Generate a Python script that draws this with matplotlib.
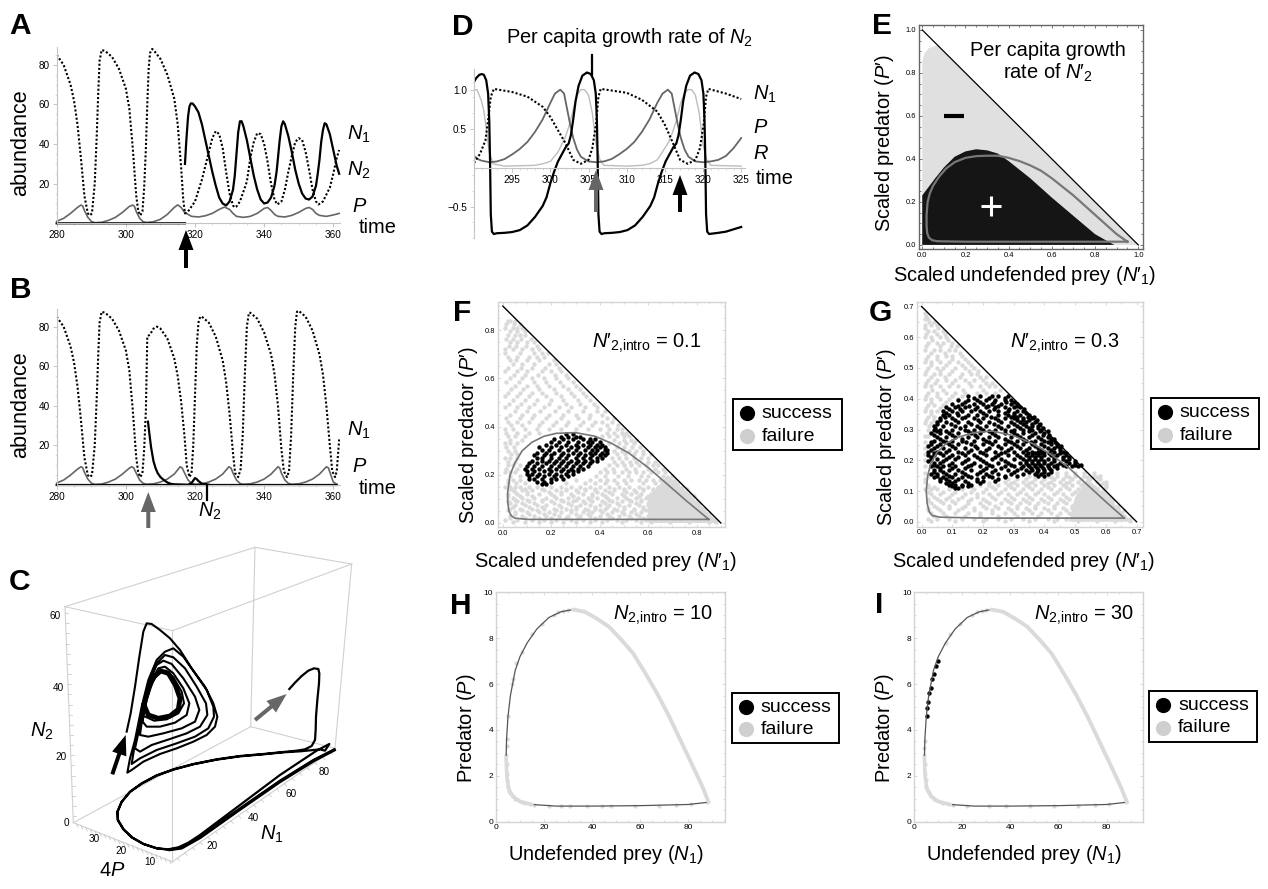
import matplotlib
matplotlib.use('Agg')
import matplotlib.pyplot as plt
import numpy as np
from matplotlib.patches import Rectangle, FancyArrow
from matplotlib.ticker import AutoMinorLocator

plt.rcParams['font.family'] = ['Liberation Sans', 'DejaVu Sans']
plt.rcParams['mathtext.fontset'] = 'custom'
plt.rcParams['mathtext.rm'] = 'Liberation Sans'
plt.rcParams['mathtext.it'] = 'Liberation Sans:italic'
plt.rcParams['mathtext.bf'] = 'Liberation Sans:bold'

NAN = float('nan')

# ---- A: time series
a_n1_t = [280,282,284,285,286,287,288,289,289.6,290.2,291,291.6,292,292.4,293,294,296,298,300,301,302,303,303.6,304.2,304.8,305.3,305.8,306.2,306.6,307,307.6,308,310,312,314,315,316,316.6,317.1,318,320,322,324,325,326,327,328,329,330,331,331.5,332,333,335,336,337,338,339,340,341,342,343,343.8,345,346,347,348,349,350,351,352,353,354,355,355.7,357,359,360,361,361.7]
a_n1_v = [85,80,70,62,50,33,14,5,4,5,20,45,65,82,87.5,87,84,78,68,58,38,14,6,4,6,18,38,60,78,86,88,87.5,83,75,63,50,28,12,5,6,11,22,36,43,46.5,45,38,26,15,9,8,8.5,11,21,33,41,45.5,45,40,31,20,12,9.5,11,17,26,34,41,43,42,36,27,17,11,9.5,11,18,25,33,37]
a_n2_t = [280,317.1,NAN,317.1,317.5,318,318.4,318.8,319.3,320,321,322,323,324,325,326,327,328,329,330,331,331.5,332,332.5,333,333.5,334,335,336,337,338,339,340,341,342,343,343.6,344,344.5,345,345.5,346,347,348,349,350,351,352,353,354,355,355.5,356,356.5,357,357.5,358,359,360,361,361.7]
a_n2_v = [0,0,NAN,30,42,54,59,60.5,60.5,59,56,50,42,34,26,19,13,10,9,11,17,24,35,46,51.5,51.5,49,42,33,24,17,12,10,10.5,13,19,26,33,42,49,51.5,50,44,36,27,20,15,12.5,12,13.5,19,25,32,41,47,50.5,50,45,37,29,25]
a_p_t = [280,282,284,286,287,287.5,288,289,290,291,293,295,297,299,301,302,302.5,303,304,305,306,308,310,312,314,315,316,317,319,321,323,325,327,328.5,330,331,332,334,336,338,340,341,342,343,344,346,348,350,352,353,354,355,356,358,360,361.7]
a_p_v = [1,2.5,5,8,9.2,8.8,6.5,3,1,.3,.5,1.5,3,5.5,8.5,9.2,8.5,6,2.5,.8,.4,.8,2,4.5,8,9.3,8,5.5,3.5,3.2,3.8,5,7,8.2,7,5,3.5,3,3.5,5,7.5,8,6.5,4.5,3.5,3.2,4,5.5,7.5,8,7,5,4,3.5,4.2,5]

# ---- B: time series
b_n1_t = [280,282,284,285,286,287,288,289,289.6,290.2,291,291.6,292,292.4,293,294,296,298,300,301,302,303,303.6,304.2,304.8,305.3,305.8,306.2,307,308,309,310,312,314,315,316,317,317.6,318.4,319,319.5,320,320.5,321,321.5,322,324,326,328,329,330,331,331.6,332.5,333.2,333.8,334.4,335,335.6,336,338,340,342,343,344,345,345.7,346.6,347.2,347.8,348.4,349,349.5,350,352,354,356,357,358,359,359.7,360.5,361,361.7]
b_n1_v = [85,80,70,62,50,33,14,5,4,5,20,45,65,82,87.5,87,84,78,68,58,38,14,6,4,6,18,38,75,76,79,80,79,74,64,55,42,24,10,4,6,20,45,70,82,85,85,82,75,63,52,36,16,6,4,8,25,55,80,87,87,84,77,66,56,40,18,7,4,7,25,55,80,87.5,88,85,78,66,56,40,20,7,4,7,23]
b_n2_t = [280,361,NAN,306.4,306.8,307.3,308,308.6,309.2,310,311,312,313,314,318,319,320,320.5,321,322,324]
b_n2_v = [0,0,NAN,32,26,19,12,8.5,6,4,2.5,1.3,.6,.3,.1,1,3.5,3,2,.7,.1]
b_p_t = [280,282,284,286,287,287.5,288,289,290,291,293,295,297,299,301,301.7,302.3,303,304,305,306,308,310,312,314,315.7,316.3,317,318,319,320,322,324,326,328,329.8,330.4,331,332,333,334,336,338,340,342,344,344.5,345,346,347,348,350,352,354,356,358,358.6,359.3,360,361]
b_p_v = [1,2.5,5,8,9.2,8.8,6.5,3,1,.3,.5,1.5,3,5.5,8.5,9.2,8.6,6,2.5,.8,.4,.6,1.5,3,5.5,9.2,8.6,6,2.5,.8,.4,.6,1.5,3,5.5,9.2,8.6,6,2.5,.8,.4,.6,1.5,3,5.5,9.2,8.6,6,2.5,.8,.4,.6,1.5,3,5.5,9.2,8.6,5,1.5,.4]

# ---- C: trajectory as it appears in the 3D view (picture units)
c_outer = [(868,447),(885,428),(905,408),(925,392),(942,385),(955,387),(958,400),(957,430),(952,480),(948,530),(947,570),(945,600),(935,618),(915,628),(890,632),(850,636),(790,642),(720,648),(650,658),(580,672),(520,688),(470,706),(425,730),(390,755),(365,785),(352,815),(353,840),(370,868),(395,892),(430,912),(470,925),(505,928),(535,922),(565,908),(600,885),(660,840),(720,795),(780,750),(840,705),(900,665),(950,632),(988,612),(975,632),(960,628),(900,634),(850,637),(790,643),(720,649),(650,659),(580,673),(520,689),(470,707),(425,731),(390,756),(365,786),(353,815),(354,840),(371,868),(396,892),(431,912),(471,925),(505,929),(540,925),(600,890),(720,805),(840,722),(940,660),(1003,628)]
c_lower = [(1003,630),(940,663),(840,725),(720,808),(600,893),(545,924),(510,929)]
c_spiral = [(380,575),(392,520),(405,440),(418,350),(430,275),(440,250),(455,252),(480,270),(510,295),(540,330),(575,385),(615,440),(640,490),(652,530),(645,560),(620,585),(580,605),(530,625),(480,642),(430,665),(395,690),(382,698),
            (390,655),(405,600),(425,500),(445,420),(470,360),(495,335),(520,325),(550,350),(585,400),(620,450),(640,500),(642,530),(625,565),(585,590),(530,610),(470,630),(420,655),(395,672),
            (405,610),(425,520),(445,430),(470,370),(495,345),(520,352),(555,385),(590,440),(618,490),(622,525),(600,560),(560,580),(510,597),(455,615),(420,635),(405,625),
            (415,580),(430,500),(450,420),(470,375),(490,362),(515,372),(550,415),(585,470),(598,510),(585,545),(545,565),(490,580),(445,590),(420,585),
            (424,555),(435,490),(455,420),(475,385),(495,380),(520,400),(550,445),(568,490),(560,525),(525,548),(480,560),(440,560),(428,545),
            (430,530),(440,480),(458,425),(478,395),(498,392),(520,412),(545,455),(552,490),(535,520),(500,538),(462,542),(436,530)]
c_ring = [(432,495),(445,445),(462,410),(482,393),(505,400),(526,435),(540,475),(535,508),(510,528),(475,535),(445,525),(432,495)]
c_edges = [((195,200),(765,22)),((765,22),(1055,72)),((195,200),(517,272)),((517,272),(1055,72)),
           ((195,200),(220,848)),((517,272),(517,965)),((765,22),(752,560)),((1055,72),(1005,625)),
           ((220,848),(517,965)),((517,965),(1005,625)),((220,848),(752,560)),((752,560),(1005,625))]

# ---- D: growth rate and scaled abundances
d_g_t = [290,290.3,290.7,291,291.3,291.6,291.85,292,292.1,292.2,292.35,292.6,293,294,295,296,297,298,299,299.5,300,300.5,301,301.5,302,302.4,302.7,303,303.3,303.7,304.2,304.8,305.3,305.7,305.95,306.1,306.2,306.3,306.45,306.7,307.1,308.1,309.1,310.1,311.1,312.1,313.1,313.6,314.1,314.6,315.1,315.6,316.1,316.5,316.8,317.1,317.4,317.8,318.3,318.9,319.4,319.8,320.05,320.2,320.3,320.4,320.55,320.8,322,323,324,325]
d_g_v = [1.1,1.15,1.19,1.2,1.19,1.12,.95,.6,.1,-.6,-.82,-.85,-.84,-.835,-.825,-.8,-.74,-.63,-.49,-.38,-.2,-.05,.08,.17,.26,.31,.42,.62,.85,1.05,1.18,1.22,1.2,1.12,.95,.6,.1,-.6,-.82,-.85,-.84,-.835,-.825,-.8,-.74,-.63,-.49,-.38,-.2,-.05,.08,.17,.26,.31,.42,.62,.85,1.05,1.18,1.22,1.2,1.12,.95,.6,.1,-.6,-.82,-.85,-.835,-.82,-.79,-.76]
d_n1_t = [290,290.8,291.5,291.9,292.2,292.6,295,297,299,300,301,302,303,304,305,305.5,306,306.3,306.6,310,312,314,315,316,317,318,319,319.6,320.1,320.4,320.7,323,325]
d_n1_v = [.06,.18,.35,.65,.91,1.01,.97,.91,.78,.65,.48,.31,.1,.05,.1,.25,.57,.91,1.01,.96,.87,.72,.55,.33,.1,.05,.1,.25,.57,.91,1.01,.95,.88]
d_p_t = [290,290.5,291,292,293,294,295,296,297,298,299,300,300.6,301.3,301.8,302.2,302.6,303,303.5,304,305,306,307,308,309,310,311,312,313,314,314.7,315.4,315.9,316.3,316.7,317.1,317.6,318.1,319,320,321,322,323,324,325]
d_p_v = [.15,.11,.09,.07,.08,.11,.17,.24,.33,.46,.62,.83,.95,1.0,.95,.75,.55,.38,.23,.14,.08,.07,.08,.11,.17,.24,.33,.46,.62,.83,.95,1.0,.95,.75,.55,.38,.23,.14,.08,.07,.08,.1,.15,.25,.38]
d_r_t = [290,290.4,291,291.3,291.6,292,292.5,294,298,299,300,301,301.5,302,302.5,303,303.5,304,304.5,305,305.5,306,306.5,307,310,312,313,314,315,315.5,316,316.5,317,317.5,318,318.5,319,319.5,320,320.5,321,325]
d_r_v = [1.0,1.0,.85,.72,.5,.2,.05,.02,.03,.05,.08,.2,.3,.4,.55,.75,.93,1.0,1.0,.93,.7,.3,.1,.03,.02,.03,.05,.1,.25,.33,.45,.6,.8,.95,1.0,1.0,.93,.7,.3,.1,.03,.02]

# ---- E: sign regions of the growth rate and the cycle
e_neg_x = [0,0,.01,.03,.06,.075,1.0]
e_neg_y = [0,.85,.89,.915,.925,.925,0]
e_pos_x = [0,0,.03,.06,.1,.15,.2,.25,.3,.35,.4,.45,.5,.6,.7,.8,.87,.89]
e_pos_y = [0,.23,.27,.31,.36,.41,.435,.445,.44,.425,.39,.35,.31,.22,.135,.05,.01,0]
e_cyc_x = [.95,.6,.2,.07,.045,.03,.023,.02,.02,.025,.035,.05,.08,.11,.15,.2,.25,.3,.35,.4,.45,.5,.55,.6,.65,.7,.75,.8,.85,.9,.95]
e_cyc_y = [.015,.015,.015,.017,.022,.035,.055,.09,.14,.2,.24,.275,.32,.355,.385,.405,.413,.415,.415,.405,.39,.37,.345,.31,.27,.23,.185,.14,.095,.05,.015]

f_cyc_x = [.85,.6,.3,.1,.05,.035,.025,.02,.02,.03,.05,.08,.12,.17,.22,.3,.38,.45,.52,.6,.68,.76,.82,.85]
f_cyc_y = [.015,.015,.015,.015,.02,.03,.05,.09,.13,.2,.25,.3,.335,.36,.372,.375,.36,.33,.29,.23,.16,.09,.04,.015]
f_success = [(.368,[.26,.29]),(.358,[.24,.27,.30,.32]),(.347,[.21,.25,.29,.33,.36,.38]),(.336,[.20,.23,.27,.31,.35,.37,.40]),
             (.325,[.18,.22,.26,.30,.33,.36,.39,.41]),(.314,[.15,.20,.24,.28,.31,.35,.38,.40,.42]),(.303,[.16,.19,.23,.27,.30,.34,.37,.39,.42,.43]),
             (.292,[.14,.18,.21,.25,.29,.32,.36,.38,.41,.43]),(.281,[.13,.17,.20,.24,.27,.31,.34,.37,.40,.42]),(.270,[.14,.16,.20,.23,.26,.30,.33,.36,.39,.41]),
             (.259,[.12,.16,.19,.22,.25,.28,.31,.34,.37,.39]),(.248,[.11,.14,.18,.21,.24,.27,.30,.33,.36]),(.237,[.10,.13,.16,.20,.23,.26,.29,.32,.35]),
             (.226,[.09,.12,.15,.19,.22,.25,.28,.31,.33]),(.215,[.10,.13,.17,.20,.24,.27,.29,.31]),(.204,[.10,.12,.15,.19,.22,.26,.29]),
             (.193,[.11,.14,.17,.21,.24,.27]),(.182,[.11,.13,.16,.20,.22,.25]),(.171,[.14,.17,.20]),(.160,[.16,.18])]
f_failure = [(.84,[.02,.03,.05]),(.81,[.01,.04,.06,.08]),(.78,[.02,.05,.07,.09]),(.75,[.03,.06,.10,.13]),(.72,[.01,.04,.08,.12,.15]),
             (.69,[.02,.06,.11,.14,.17]),(.66,[.04,.08,.13,.19,.22]),(.63,[.01,.06,.10,.16,.20,.24]),(.60,[.03,.08,.12,.17,.22,.27]),
             (.57,[.05,.10,.14,.19,.25,.30]),(.54,[.02,.07,.12,.16,.22,.28,.33]),(.51,[.04,.09,.14,.20,.25,.31,.36]),
             (.48,[.01,.06,.11,.17,.23,.28,.34,.39]),(.45,[.03,.08,.13,.19,.25,.30,.36,.41]),(.42,[.02,.06,.11,.16,.22,.27,.33,.38,.41,.45]),
             (.39,[.01,.04,.09,.14,.19,.24,.30,.35,.40,.44,.47,.49]),(.36,[.02,.05,.09,.41,.44,.47,.50,.52]),(.33,[.01,.03,.06,.44,.48,.51,.54]),
             (.30,[.02,.05,.46,.49,.52,.55,.58]),(.27,[.01,.03,.06,.45,.48,.51,.54,.57,.60]),(.24,[.02,.04,.07,.44,.47,.50,.53,.56,.59,.62,.64]),
             (.21,[.01,.03,.05,.40,.43,.46,.49,.52,.55,.58,.61,.64,.67]),(.18,[.02,.04,.07,.30,.36,.40,.43,.46,.50,.53,.56,.59,.62,.65,.68,.71]),
             (.15,[.01,.03,.05,.07,.11,.14,.20,.24,.28,.32,.36,.40,.44,.48,.52,.56,.60,.64,.68,.72,.74]),
             (.135,[.04,.08,.12,.17,.22,.26,.30,.34,.38,.42,.46,.50,.54,.58,.62,.66,.70,.74]),
             (.12,[.02,.06,.10,.15,.20,.24,.28,.33,.37,.41,.45,.49,.53,.57,.61,.65,.69,.73,.77]),
             (.105,[.04,.08,.13,.18,.22,.27,.31,.35,.39,.43,.47,.51,.55,.59,.63,.67,.71,.75,.78]),
             (.09,[.02,.06,.11,.16,.20,.25,.29,.33,.37,.41,.45,.49,.53,.57,.61,.65,.69,.73,.77,.80]),
             (.075,[.05,.09,.14,.18,.23,.28,.32,.36,.40,.44,.48,.52,.56,.60,.64,.68,.72,.76,.80]),
             (.06,[.03,.07,.12,.17,.21,.26,.30,.34,.38,.42,.46,.50,.54,.58,.62,.66,.70,.74,.78,.82]),
             (.045,[.05,.10,.15,.19,.24,.28,.33,.37,.41,.45,.49,.53,.57,.61,.65,.69,.73,.77,.81]),
             (.03,[.03,.08,.13,.18,.23,.27,.32,.36,.40,.44,.48,.52,.56,.60,.64,.68,.72,.76,.80,.84]),
             (.012,[.01,.06,.12,.17,.22,.28,.33,.38,.43,.47,.51,.55,.59,.63,.67,.71,.75,.79,.83,.87])]
f_failure2 = [(.825,[.015,.045,.07]),(.795,[.03,.06,.09]),(.765,[.015,.04,.075,.115]),(.735,[.025,.055,.095,.14]),(.705,[.01,.07,.13,.16,.185]),
              (.675,[.03,.055,.1,.15,.21]),(.645,[.02,.075,.12,.175,.23]),(.615,[.045,.09,.145,.215,.26]),(.585,[.015,.065,.13,.18,.235,.29]),
              (.555,[.035,.085,.15,.21,.27,.32]),(.525,[.01,.06,.11,.18,.24,.295,.345]),(.495,[.025,.075,.13,.19,.26,.32,.375]),
              (.465,[.05,.1,.155,.215,.27,.33,.39,.42]),(.435,[.015,.07,.12,.18,.24,.31,.355,.43,.46]),(.405,[.035,.08,.15,.205,.26,.32,.37,.43,.475]),
              (.375,[.015,.06,.11,.15,.43,.46,.49,.51]),(.345,[.03,.08,.46,.5,.53,.55]),(.315,[.015,.045,.47,.5,.535,.565]),(.285,[.035,.06,.47,.505,.54,.58,.61]),
              (.255,[.02,.05,.46,.49,.525,.55,.6,.63]),(.225,[.015,.06,.42,.455,.51,.545,.6,.63,.66]),(.195,[.03,.07,.385,.42,.475,.515,.57,.6,.66,.7]),
              (.165,[.02,.055,.09,.26,.34,.38,.42,.47,.51,.58,.63,.7,.725]),(.1425,[.03,.09,.16,.26,.34,.38,.46,.5,.58,.62,.7,.76]),
              (.1275,[.05,.1,.19,.24,.31,.39,.44,.51,.55,.63,.68,.75]),(.1125,[.02,.07,.12,.21,.29,.37,.42,.5,.56,.6,.66,.72,.79]),
              (.0975,[.05,.1,.16,.24,.3,.36,.44,.52,.57,.65,.7,.76]),(.0825,[.03,.08,.13,.21,.27,.34,.42,.47,.55,.6,.67,.74,.81]),
              (.0675,[.04,.11,.16,.24,.3,.38,.43,.5,.58,.63,.71,.79]),(.0525,[.02,.08,.14,.22,.28,.35,.4,.47,.54,.59,.66,.75,.83]),
              (.0375,[.05,.11,.17,.21,.3,.35,.43,.5,.55,.62,.7,.8,.85]),(.021,[.03,.09,.15,.2,.26,.31,.38,.45,.53,.58,.65,.74,.82,.86]),
              (.004,[.04,.09,.15,.2,.25,.3,.36,.41,.49,.57,.61,.69,.77,.85,.88])]
f_dense_x = [.6,.89,.77,.68,.6]
f_dense_y = [0,0,.12,.2,.1]

g_cyc_x = [.66,.4,.2,.06,.035,.025,.018,.015,.02,.03,.05,.08,.12,.17,.23,.3,.36,.42,.48,.54,.6,.66]
g_cyc_y = [.012,.012,.012,.015,.02,.032,.06,.1,.15,.19,.225,.255,.275,.29,.295,.28,.255,.22,.175,.12,.065,.012]
g_success = [(.408,[.15,.19,.23,.25,.28]),(.396,[.12,.15,.18,.21,.24,.27,.29]),(.384,[.10,.13,.17,.20,.23,.26,.29,.31]),
             (.372,[.08,.11,.14,.18,.21,.24,.27,.30,.32]),(.360,[.07,.10,.13,.16,.19,.22,.25,.28,.31,.33]),(.348,[.07,.09,.12,.15,.18,.21,.25,.28,.30,.32,.35]),
             (.336,[.06,.10,.13,.17,.20,.24,.27,.30,.33,.36]),(.324,[.05,.08,.12,.15,.19,.22,.26,.29,.32,.34,.37]),(.312,[.04,.07,.11,.14,.18,.21,.25,.28,.31,.34,.36,.38]),
             (.300,[.04,.06,.10,.14,.17,.20,.24,.27,.30,.33,.36,.39]),(.288,[.03,.06,.09,.12,.16,.19,.23,.27,.30,.33,.37,.40]),(.276,[.05,.08,.11,.15,.18,.22,.25,.29,.32,.35,.38,.41]),
             (.264,[.04,.07,.10,.13,.17,.21,.24,.28,.31,.34,.37,.40,.42]),(.252,[.03,.06,.09,.12,.16,.20,.23,.27,.30,.33,.36,.39,.42,.44]),
             (.240,[.04,.07,.11,.14,.18,.22,.26,.29,.32,.35,.38,.41,.43,.45]),(.228,[.02,.05,.08,.12,.15,.19,.24,.27,.30,.33,.36,.38,.40,.43,.46]),
             (.216,[.02,.04,.07,.10,.14,.17,.21,.25,.28,.31,.34,.36,.38,.40,.42,.44,.47]),(.204,[.03,.05,.08,.11,.15,.19,.23,.26,.30,.33,.35,.37,.39,.41,.43,.46,.48]),
             (.192,[.04,.06,.10,.13,.17,.21,.25,.28,.32,.34,.36,.38,.40,.42,.45,.48,.50]),(.180,[.03,.05,.07,.11,.15,.19,.23,.27,.30,.33,.35,.37,.39,.41,.43,.47,.49,.51]),
             (.168,[.04,.06,.09,.12,.16,.20,.24,.28,.31,.34,.36,.38,.40,.42]),(.156,[.03,.05,.08,.11,.14,.18,.21,.25,.29,.33,.37,.39,.41]),
             (.144,[.04,.07,.10,.13,.16,.20,.23,.27]),(.132,[.06,.09,.11,.14,.18,.20,.24]),(.120,[.09,.11,.13,.16]),(.110,[.11,.12])]
g_success2 = [(.402,[.17,.22,.27]),(.39,[.14,.19,.235,.275,.30]),(.378,[.12,.155,.215,.25,.31]),(.366,[.09,.125,.175,.235,.285,.335]),(.354,[.08,.115,.2,.27,.3,.34]),
              (.342,[.075,.14,.225,.29,.31,.345,.365]),(.33,[.06,.11,.185,.25,.31,.33,.35,.375]),(.318,[.05,.095,.16,.235,.3,.33,.36,.385]),(.306,[.045,.125,.19,.26,.32,.35,.38,.395]),
              (.294,[.05,.08,.15,.22,.29,.35,.385,.41]),(.282,[.04,.1,.175,.24,.31,.36,.395,.415]),(.27,[.06,.13,.2,.27,.33,.39,.42,.43]),(.258,[.03,.08,.145,.22,.29,.355,.41,.435]),
              (.246,[.02,.05,.1,.175,.25,.31,.37,.4,.44,.455]),(.234,[.03,.09,.16,.21,.28,.34,.39,.42,.45]),(.222,[.04,.06,.13,.2,.26,.345,.37,.39,.415,.45,.47]),
              (.21,[.03,.09,.12,.18,.24,.32,.35,.37,.39,.43,.46,.48]),(.198,[.02,.07,.14,.2,.27,.34,.36,.38,.4,.43,.47,.5]),(.186,[.04,.09,.16,.22,.29,.345,.37,.385,.41,.44,.46,.5,.52]),
              (.174,[.06,.1,.14,.21,.26,.325,.355,.375,.395,.415,.44]),(.162,[.04,.07,.13,.19,.23,.3,.35,.375,.4,.42]),(.15,[.05,.09,.15,.22,.27,.31,.38,.4]),
              (.138,[.06,.08,.12,.18,.25]),(.126,[.08,.1,.15,.19]),(.115,[.1,.13,.15])]
g_failure = [(.68,[.01]),(.66,[.01,.02]),(.64,[.01,.03,.05]),(.62,[.02,.04,.07]),(.60,[.01,.03,.06,.08]),(.58,[.02,.05,.07,.10]),(.56,[.01,.04,.06,.09,.11]),
             (.54,[.02,.05,.08,.10,.13]),(.52,[.01,.03,.06,.09,.12,.15]),(.50,[.02,.05,.07,.11,.14,.17]),(.48,[.01,.04,.06,.09,.13,.16,.18]),
             (.46,[.02,.05,.08,.11,.14,.17,.20]),(.44,[.01,.03,.06,.09,.12,.16,.19,.22,.24]),(.42,[.02,.05,.08,.11,.14,.18,.21,.24]),(.40,[.01,.03,.06,.09,.12]),
             (.38,[.02,.04,.07]),(.36,[.01,.03,.05]),(.34,[.02,.04]),(.32,[.01,.03]),(.30,[.02]),(.28,[.01,.02]),(.26,[.01]),(.24,[.01]),(.22,[.01]),(.20,[.01]),(.18,[.01]),
             (.16,[.01,.44,.47,.50,.53,.56]),(.15,[.02,.35,.38,.41,.44,.47,.50,.53,.56,.58]),(.14,[.01,.28,.31,.34,.37,.40,.43,.46,.49,.52,.55,.58]),
             (.13,[.01,.24,.27,.30,.33,.36,.39,.42,.45,.48,.51,.54,.57,.60]),(.12,[.02,.19,.22,.25,.28,.31,.34,.37,.40,.43,.46,.49,.52,.55,.58,.60]),
             (.105,[.01,.03,.05,.09,.13,.17,.21,.24,.27,.30,.33,.36,.39,.42,.45,.48,.51,.54,.57,.59]),(.09,[.03,.06,.10,.14,.18,.22,.25,.28,.31,.34,.37,.40,.43,.46,.49,.52,.55,.58,.60]),
             (.075,[.02,.05,.08,.12,.16,.20,.24,.27,.30,.33,.36,.39,.42,.45,.48,.51,.54,.57,.60,.62]),(.06,[.03,.07,.11,.15,.19,.22,.26,.29,.32,.35,.38,.41,.44,.47,.50,.53,.56,.59,.62]),
             (.045,[.02,.05,.09,.13,.17,.21,.25,.28,.31,.34,.37,.40,.43,.46,.49,.52,.55,.58,.61,.64]),(.03,[.03,.07,.11,.15,.19,.23,.27,.30,.33,.36,.39,.42,.45,.48,.51,.54,.57,.60,.63,.65]),
             (.01,[.02,.05,.09,.13,.17,.21,.25,.29,.33,.37,.41,.44,.47,.50,.53,.56,.59,.62,.65,.68])]
g_failure2 = [(.67,[.015]),(.65,[.025,.04]),(.63,[.01,.055]),(.61,[.015,.05,.075]),(.59,[.035,.085]),(.57,[.015,.06,.095,.115]),(.55,[.03,.075,.125]),(.53,[.015,.05,.1,.14]),
              (.51,[.03,.08,.13,.16]),(.49,[.015,.06,.1,.155,.185]),(.47,[.03,.075,.125,.19,.21]),(.45,[.015,.045,.1,.155,.21,.23]),(.43,[.035,.07,.135,.2,.255]),(.41,[.015,.05,.1,.13]),
              (.39,[.03,.08]),(.37,[.015,.06]),(.35,[.03]),(.33,[.015,.04]),(.31,[.025]),(.145,[.37,.42,.48,.54,.57]),(.125,[.22,.29,.35,.41,.47,.53,.59]),
              (.112,[.02,.04,.16,.23,.29,.35,.41,.47,.53,.56,.6]),(.097,[.02,.07,.11,.16,.2,.26,.32,.38,.44,.5,.56,.59]),(.082,[.04,.09,.13,.18,.23,.29,.35,.41,.47,.53,.59,.61]),
              (.067,[.02,.06,.1,.15,.21,.28,.34,.4,.46,.52,.58,.62]),(.052,[.04,.09,.14,.2,.24,.31,.37,.43,.49,.55,.61,.64]),(.037,[.02,.06,.12,.17,.23,.29,.35,.41,.47,.53,.59,.64,.66]),
              (.02,[.04,.08,.14,.19,.25,.31,.38,.44,.5,.56,.62,.66]),(.004,[.03,.11,.2,.27,.35,.43,.51,.57,.63,.68])]
g_dense_x = [.48,.685,.6,.54,.5]
g_dense_y = [0,0,.085,.14,.08]

# ---- H, I: same outcomes on the unscaled cycle
cyc_n1 = [88.5,80,60,40,25,15,10,7,5.2,4.5,4.2,4.4,5,6,8,10,13,17,22,27,32,37,42,47,52,57,62,67,72,77,82,86,88.5]
cyc_p = [.85,.75,.7,.68,.68,.75,.88,1.1,1.45,2.0,2.8,3.6,4.6,5.5,6.6,7.2,7.8,8.4,8.9,9.15,9.25,9.15,8.85,8.5,7.95,7.35,6.5,5.6,4.6,3.5,2.4,1.5,.85]
h_fail_n1 = [88,81,75,68,58,48,44,38,31,27,22,16,14,12,11,9,8,7,6,5.5,5,4.7,4.5,4.4,4.3,4.4,4.5,5,6.5,7,8.5,11,15,19,24,26,28,30]
h_fail_p = [.85,.76,.73,.7,.7,.69,.68,.68,.68,.68,.69,.74,.76,.8,.84,.95,1.0,1.1,1.25,1.35,1.5,1.8,2.1,2.5,2.9,3.3,3.6,4.6,6.0,6.2,6.9,7.4,8.2,8.6,9.0,9.12,9.2,9.25]
i_fail_n1 = [88,81,75,68,58,48,38,31,22,16,14,12,11,9,8,7,6,5.5,5,4.7,4.5,4.4,4.2,4.2,4.3,13,15,19,24,26,28,30]
i_fail_p = [.85,.76,.73,.7,.7,.69,.68,.68,.69,.74,.76,.8,.84,.95,1.0,1.1,1.25,1.35,1.5,1.8,2.1,2.5,2.9,3.2,3.5,7.8,8.2,8.6,9.0,9.12,9.2,9.25]
i_succ_n1 = [5.1,5.4,5.7,6.2,6.9,7.5,8.1,9.0,10.0]
i_succ_p = [4.6,4.95,5.2,5.6,5.85,6.2,6.45,6.8,7.0]

DARK = '#666666'
FAIL = '#dadada'
W, H = 1268, 889


def flat(*row_lists):
    rows = [r for lst in row_lists for r in lst]
    return [x for y, xs in rows for x in xs], [y for y, xs in rows for _ in xs]


fig = plt.figure(figsize=(W / 100, H / 100), dpi=100)


def px_ax(l, t, r, b):
    return fig.add_axes([l / W, 1 - b / H, (r - l) / W, (b - t) / H])


def time_ax(l, t, r, b, xlim, ylim, xt, yt, xminor, yminor):
    ax = px_ax(l, t, r, b)
    ax.set_xlim(xlim)
    ax.set_ylim(ylim)
    ax.patch.set_visible(False)
    for s in ['top', 'right']:
        ax.spines[s].set_visible(False)
    for s in ['left', 'bottom']:
        ax.spines[s].set_color('#c4c4c4')
        ax.spines[s].set_linewidth(0.8)
    ax.set_xticks(xt)
    ax.set_yticks(yt)
    ax.xaxis.set_minor_locator(AutoMinorLocator(xminor))
    ax.yaxis.set_minor_locator(AutoMinorLocator(yminor))
    ax.tick_params(which='major', length=3, width=0.6, color='#bbbbbb', labelsize=7.2, pad=2)
    ax.tick_params(which='minor', length=1.5, width=0.5, color='#cccccc')
    return ax


def frame_ax(l, t, r, b, xlim, ylim, xt, yt, fmt, color, fsize=5.4, minor=4):
    ax = px_ax(l, t, r, b)
    ax.set_xlim(xlim)
    ax.set_ylim(ylim)
    ax.set_xticks(xt)
    ax.set_yticks(yt)
    ax.set_xticklabels([fmt % v for v in xt])
    ax.set_yticklabels([fmt % v for v in yt])
    ax.xaxis.set_minor_locator(AutoMinorLocator(minor))
    ax.yaxis.set_minor_locator(AutoMinorLocator(minor))
    ax.tick_params(which='both', direction='in', top=True, right=True, color=color, width=0.6, labelsize=fsize, pad=2)
    ax.tick_params(which='major', length=2.5)
    ax.tick_params(which='minor', length=1.2)
    for s in ax.spines.values():
        s.set_color(color)
        s.set_linewidth(1.0)
    return ax


# panel A
ax = time_ax(56.7, 47, 340.2, 223.3, (280, 362), (0, 89), [280, 300, 320, 340, 360], [20, 40, 60, 80], 4, 4)
ax.plot(a_p_t, a_p_v, color=DARK, lw=1.2, clip_on=False)
ax.plot(a_n1_t, a_n1_v, color='black', lw=1.5, ls=(0, (1, 1)))
ax.plot(a_n2_t, a_n2_v, color='black', lw=1.6, clip_on=False)

# panel B
ax = time_ax(56.7, 308.8, 340.2, 485, (280, 362), (0, 89), [280, 300, 320, 340, 360], [20, 40, 60, 80], 4, 4)
ax.plot(b_p_t, b_p_v, color=DARK, lw=1.2, clip_on=False)
ax.plot(b_n1_t, b_n1_v, color='black', lw=1.5, ls=(0, (1, 1)))
ax.plot(b_n2_t, b_n2_v, color='black', lw=1.6, clip_on=False)

# panel C, drawn in picture units of the 3D view
cx = px_ax(0, 540, 420, 889)
cx.set_xlim(0, 1260)
cx.set_ylim(1047, 0)
cx.axis('off')
for e0, e1 in c_edges:
    cx.plot([e0[0], e1[0]], [e0[1], e1[1]], color='#d0d0d0', lw=0.8)
# small tick marks along the box edges
for (p0, p1, d) in [((220, 848), (195, 200), (9, 0)), ((517, 965), (220, 848), (5, 10)), ((517, 965), (1005, 625), (7, 7))]:
    for f in np.linspace(0.03, 0.97, 21):
        x0, y0 = p0[0] + (p1[0] - p0[0]) * f, p0[1] + (p1[1] - p0[1]) * f
        cx.plot([x0, x0 + d[0]], [y0, y0 + d[1]], color='#c0c0c0', lw=0.5)
cx.plot(*zip(*c_outer), color='black', lw=1.6, solid_joinstyle='round')
cx.plot(*zip(*c_lower), color='black', lw=2.2, solid_joinstyle='round')
cx.plot(*zip(*c_spiral), color='black', lw=1.5, solid_joinstyle='round')
cx.plot(*zip(*c_ring), color='black', lw=3.5, solid_joinstyle='round')
for s, x, y in [('60', 165, 228), ('40', 175, 445), ('20', 183, 652), ('0', 200, 848), ('30', 283, 898), ('20', 363, 932),
                ('10', 450, 967), ('20', 637, 917), ('40', 760, 835), ('60', 872, 762), ('80', 972, 695)]:
    cx.text(x, y, s, fontsize=7.2, ha='center', va='center')

# panel D
ax = time_ax(474, 68.6, 745, 237.9, (290, 325.5), (-.9, 1.27), [295, 300, 305, 310, 315, 320, 325], [-.5, .5, 1.0], 5, 5)
ax.spines['bottom'].set_position(('data', 0))
ax.set_yticklabels(['\u22120.5', '0.5', '1.0'])
ax.plot(d_r_t, d_r_v, color='#bdbdbd', lw=1.0)
ax.plot(d_p_t, d_p_v, color=DARK, lw=1.3)
ax.plot(d_n1_t, d_n1_v, color='black', lw=1.5, ls=(0, (1, 1)))
ax.plot(d_g_t, d_g_v, color='black', lw=1.6)

# panel E
ax = frame_ax(919, 25, 1143, 249, (-.015, 1.022), (-.019, 1.023), [0, .2, .4, .6, .8, 1.0], [0, .2, .4, .6, .8, 1.0], '%.1f', '#666666')
ax.fill(e_neg_x, e_neg_y, color='#e0e0e0', lw=0)
ax.fill(e_pos_x, e_pos_y, color='#151515', lw=0)
ax.plot([0, 1], [1, 0], color='black', lw=0.9)
ax.plot(e_cyc_x, e_cyc_y, color='#777777', lw=1.6, solid_joinstyle='round')
ax.plot([.145], [.6], marker='_', ms=15, mew=3, color='black')
ax.plot([.32], [.18], marker='+', ms=15, mew=2.2, color='white')

# panel F
ax = frame_ax(498, 302, 725, 527, (-.02, .917), (-.0166, .917), [0, .2, .4, .6, .8], [0, .2, .4, .6, .8], '%.1f', '#d4d4d4')
ax.fill(f_dense_x, f_dense_y, color=FAIL, lw=0)
ax.scatter(*flat(f_failure, f_failure2), s=10, color=FAIL, lw=0)
ax.plot(f_cyc_x, f_cyc_y, color='#777777', lw=1.2, solid_joinstyle='round')
ax.scatter(*flat(f_success), s=10, color='black', lw=0)
ax.plot([0, .9], [.9, 0], color='black', lw=1.0)

# panel G
ax = frame_ax(917.3, 302.3, 1142.7, 526.7, (-.014, .72), (-.016, .7136), [0, .1, .2, .3, .4, .5, .6, .7], [0, .1, .2, .3, .4, .5, .6, .7], '%.1f', '#d4d4d4', minor=2)
ax.fill(g_dense_x, g_dense_y, color=FAIL, lw=0)
ax.scatter(*flat(g_failure, g_failure2), s=10, color=FAIL, lw=0)
ax.plot(g_cyc_x, g_cyc_y, color='#777777', lw=1.2, solid_joinstyle='round')
ax.scatter(*flat(g_success, g_success2), s=10, color='black', lw=0)
ax.plot([0, .7], [.7, 0], color='black', lw=1.0)

# panels H and I
for l, r, fn1, fp, sn1, sp in [(496, 725, h_fail_n1, h_fail_p, [], []), (914.3, 1143.3, i_fail_n1, i_fail_p, i_succ_n1, i_succ_p)]:
    ax = frame_ax(l, 592.3, r, 821.7, (0, 95.3), (0, 10), [0, 20, 40, 60, 80], [0, 2, 4, 6, 8, 10], '%d', '#d4d4d4', fsize=6)
    ax.plot(cyc_n1, cyc_p, color='#555555', lw=0.9)
    # failure points run together along the falling flank and the lower left bend
    ax.plot(cyc_n1[20:33], cyc_p[20:33], color=FAIL, lw=2.8, solid_capstyle='round')
    ax.plot(cyc_n1[5:11], cyc_p[5:11], color=FAIL, lw=2.6, solid_capstyle='round')
    ax.scatter(fn1, fp, s=9, color=FAIL, lw=0, clip_on=False)
    if sn1:
        ax.scatter(sn1, sp, s=10, color='black', lw=0)

# overlay in picture pixels: labels, arrows, legends
ov = fig.add_axes([0, 0, 1, 1], zorder=10)
ov.set_xlim(0, W)
ov.set_ylim(H, 0)
ov.axis('off')
ov.patch.set_visible(False)

for s, x, y in [('A', 9, 34), ('B', 10, 298), ('C', 9, 590), ('D', 452, 35), ('E', 872, 34), ('F', 453, 321), ('G', 869, 321), ('H', 450, 614), ('I', 875, 613)]:
    ov.text(x, y, s, fontsize=21.5, fontweight='bold', va='baseline')

LS = 14.4
labels = [('abundance', 21, 143, 15.6), ('abundance', 21, 405, 15.6),
          ('Scaled predator ($P\u2032$)', 885, 143, LS), ('Scaled predator ($P\u2032$)', 468, 435, LS), ('Scaled predator ($P\u2032$)', 886, 437, LS),
          ('Predator ($P$)', 466, 728, LS), ('Predator ($P$)', 884, 728, LS)]
for s, x, y, fs in labels:
    ov.text(x, y, s, fontsize=fs, rotation=90, ha='center', va='center')

left_texts = [('$N_1$', 347, 140), ('$N_2$', 347, 176), ('$P$', 352, 212), ('time', 359, 233),
              ('$N_1$', 347, 436), ('$P$', 352, 472), ('time', 359, 494), ('$N_2$', 198, 517),
              ('$N_2$', 30, 737), ('$N_1$', 260, 840), ('$4P$', 99, 876),
              ('Per capita growth rate of $N_2$', 506, 43), ('$N_1$', 753, 100), ('$P$', 753, 133), ('$R$', 753, 159), ('time', 756, 184),
              ('$N\u2032_{2{,}\\mathrm{intro}}$ = 0.1', 592, 348), ('$N\u2032_{2{,}\\mathrm{intro}}$ = 0.3', 1010, 348),
              ('$N_{2{,}\\mathrm{intro}}$ = 10', 613, 620), ('$N_{2{,}\\mathrm{intro}}$ = 30', 1034, 620)]
for s, x, y in left_texts:
    ov.text(x, y, s, fontsize=LS, va='baseline')

center_texts = [('Per capita growth', 1048, 56), ('rate of $N\u2032_2$', 1048, 79),
                ('Scaled undefended prey ($N\u2032_1$)', 1025, 281), ('Scaled undefended prey ($N\u2032_1$)', 606, 567), ('Scaled undefended prey ($N\u2032_1$)', 1024, 567),
                ('Undefended prey ($N_1$)', 606, 860), ('Undefended prey ($N_1$)', 1024, 860)]
for s, x, y in center_texts:
    ov.text(x, y, s, fontsize=LS, ha='center', va='baseline')


def arrow(x0, y0, x1, y1, color):
    ov.add_patch(FancyArrow(x0, y0, x1 - x0, y1 - y0, width=4, head_width=15, head_length=20,
                            length_includes_head=True, color=color, lw=0))


arrow(186, 268, 186, 230, 'black')
arrow(148.3, 528, 148.3, 492, DARK)
arrow(596, 212, 596, 170, DARK)
arrow(680, 212, 680, 175, 'black')
arrow(112.3, 774.3, 125.7, 735, 'black')
arrow(255, 720, 286.7, 694, DARK)
# pointer lines to N2 in panels B and D
ov.plot([206.7, 206.7], [485, 500], color='black', lw=1.6)
ov.plot([592, 592], [55, 75], color='black', lw=1.6)

# legends
for l, t, r, b in [(732.7, 399.3, 841.7, 450), (1150.7, 398.3, 1259, 449), (731.7, 692.7, 839.3, 743), (1149, 691, 1257.3, 741.7)]:
    ov.add_patch(Rectangle((l, t), r - l, b - t, fc='white', ec='black', lw=1.4))
    ov.scatter([l + 14], [t + 14], s=120, color='black', lw=0)
    ov.scatter([l + 14], [t + 36.5], s=120, color='#cfcfcf', lw=0)
    ov.text(l + 29, t + 19, 'success', fontsize=14, va='baseline')
    ov.text(l + 29, t + 41.5, 'failure', fontsize=14, va='baseline')

fig.savefig('out.png', dpi=100)
